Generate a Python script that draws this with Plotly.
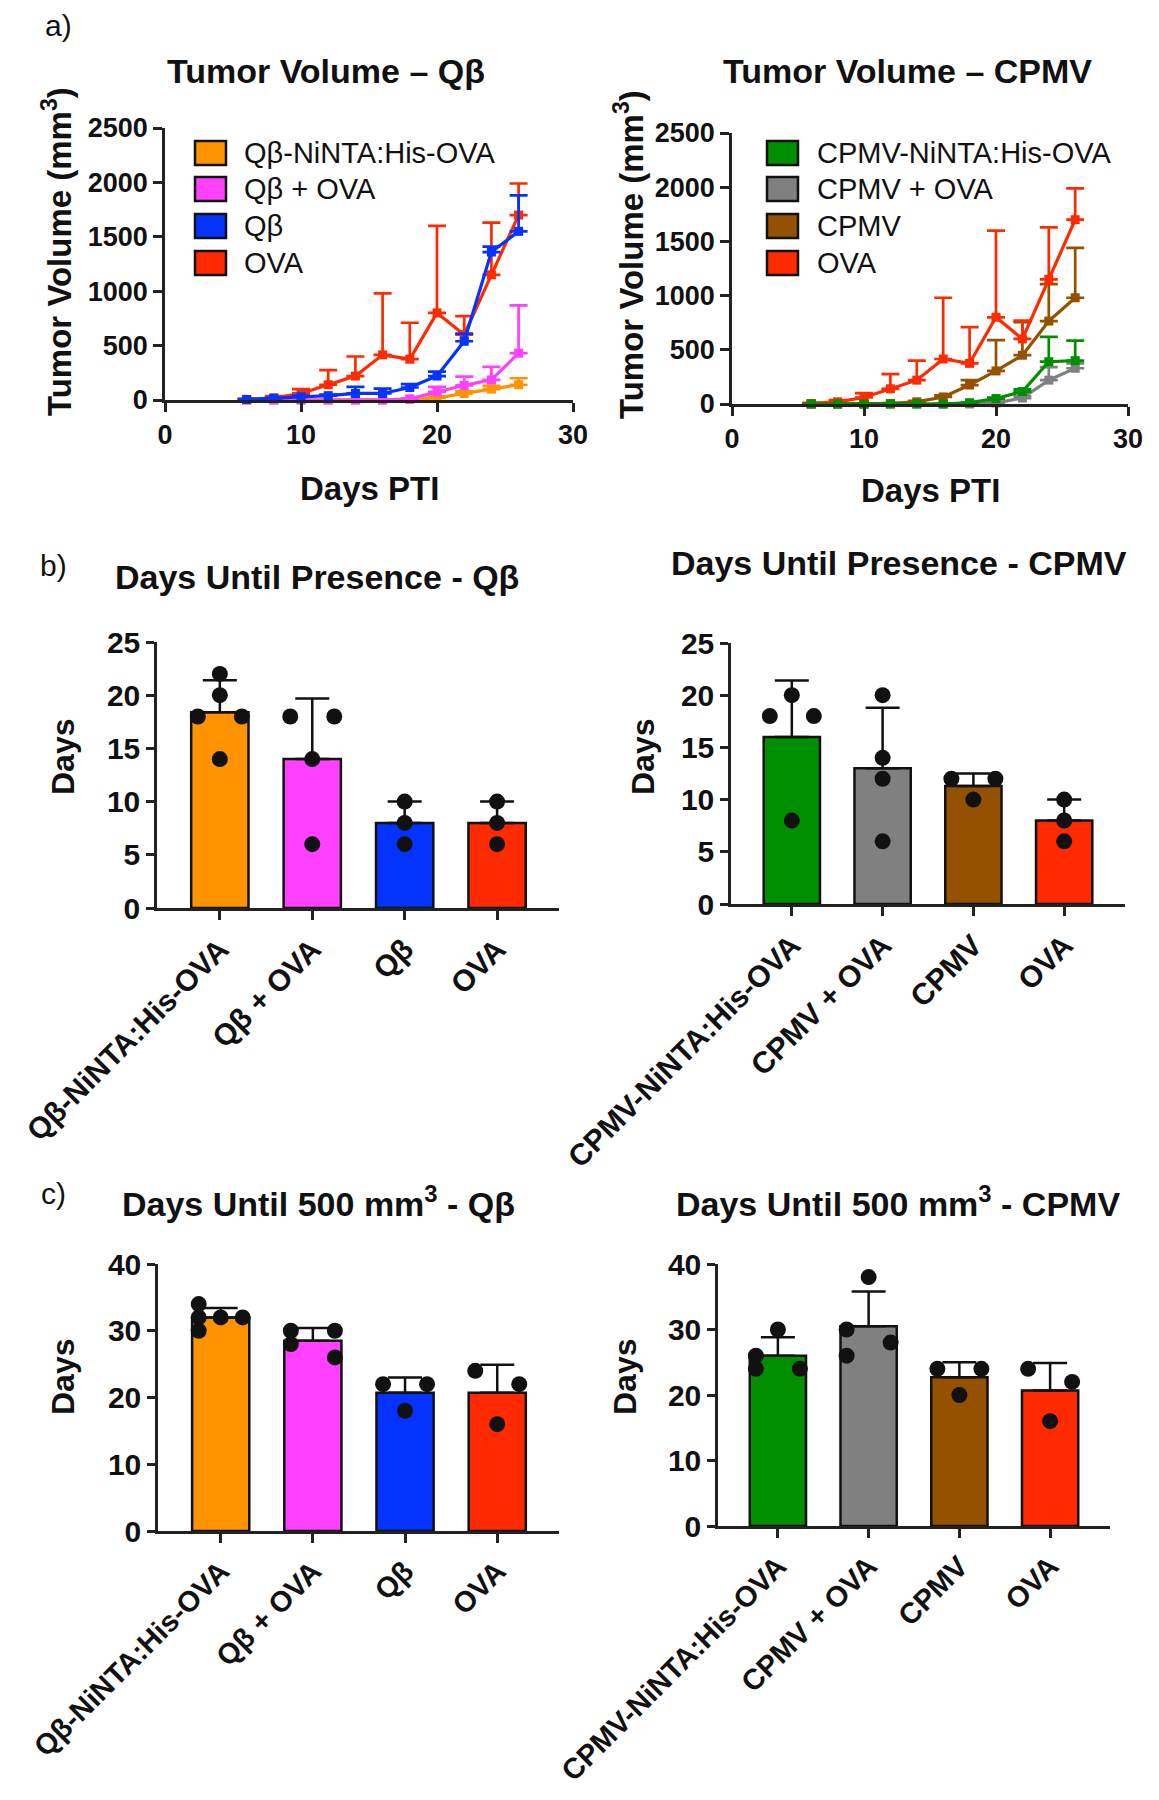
import plotly.graph_objects as go

# the page adds an 8 px body margin, so the figure is drawn slightly smaller
# and every position below is given in page pixels of the 1159x1800 picture
OFF = 8
FIG_W, FIG_H = 1151, 1784
FONT = "Liberation Sans, Arial, sans-serif"

# ---------------- data ----------------
days = [6, 8, 10, 12, 14, 16, 18, 20, 22, 24, 26]

# panel a, Qβ
qb_nin_mean = [0, 0, 0, 0, 0, 0, 5, 20, 60, 100, 140]
qb_nin_sd = [0, 0, 0, 0, 0, 0, 0, 10, 20, 30, 60]
qb_ova_mean = [0, 0, 0, 0, 0, 0, 10, 75, 135, 185, 430]
qb_ova_sd = [0, 0, 0, 0, 0, 0, 5, 45, 80, 120, 440]
qb_mean = [5, 15, 30, 40, 60, 60, 115, 220, 540, 1360, 1550]
qb_sd = [3, 5, 10, 10, 60, 45, 30, 40, 70, 50, 330]
ova_mean = [5, 20, 60, 140, 220, 415, 375, 800, 600, 1150, 1700]
ova_sd = [5, 15, 40, 135, 180, 565, 335, 800, 170, 480, 290]

# panel a, CPMV
cp_nin_mean = [0, 0, 0, 0, 0, 0, 12, 50, 115, 390, 400]
cp_nin_sd = [0, 0, 0, 0, 0, 0, 0, 10, 20, 230, 185]
cp_ova_mean = [0, 0, 0, 0, 0, 0, 0, 10, 55, 220, 330]
cp_ova_sd = [0, 0, 0, 0, 0, 0, 0, 5, 15, 120, 45]
cp_mean = [0, 0, 0, 5, 20, 65, 175, 305, 450, 765, 980]
cp_sd = [0, 0, 0, 3, 10, 15, 45, 285, 305, 340, 460]

# panel b / c categories
qb_cats = ["Qβ-NiNTA:His-OVA", "Qβ + OVA", "Qβ", "OVA"]
cp_cats = ["CPMV-NiNTA:His-OVA", "CPMV + OVA", "CPMV", "OVA"]

# b) days until presence
pres_qb_pts = [[22, 20, 18, 18, 14], [18, 18, 14, 6], [10, 8, 6], [10, 8, 6]]
pres_qb_mean = [18.4, 14, 8, 8]
pres_qb_sd = [3.0, 5.7, 2.0, 2.0]
pres_cp_pts = [[20, 18, 18, 8], [20, 14, 12, 6], [12, 12, 10], [10, 8, 6]]
pres_cp_mean = [16, 13, 11.3, 8]
pres_cp_sd = [5.4, 5.8, 1.2, 2.0]

# c) days until 500 mm3
d500_qb_pts = [[34, 32, 32, 32, 30], [30, 30, 28, 26], [22, 22, 18], [24, 22, 16]]
d500_qb_mean = [32, 28.5, 20.7, 20.7]
d500_qb_sd = [1.4, 1.9, 2.3, 4.2]
d500_cp_pts = [[30, 26, 24, 24], [38, 30, 28, 26], [24, 24, 20], [24, 22, 16]]
d500_cp_mean = [26, 30.5, 22.7, 20.7]
d500_cp_sd = [2.8, 5.3, 2.3, 4.2]

ORANGE, PINK, BLUE, RED = "#FF9300", "#FF40FF", "#0433FF", "#FF2A00"
GREEN, GREY, BROWN = "#008F00", "#808080", "#945200"


def fx(px):
    return (px - OFF) / FIG_W


def fy(py):
    return 1 - (py - OFF) / FIG_H


# subplot boxes in page pixels: (left, right, top, bottom)
boxes = {
    "a1": (165, 573, 128, 400),
    "a2": (732, 1128, 133, 404),
    "b1": (157, 559, 642, 908),
    "b2": (731, 1125, 643, 904),
    "c1": (158, 559, 1264, 1531),
    "c2": (718, 1110, 1264, 1526),
}
xranges = {"b1": [-0.68, 3.67], "b2": [-0.67, 3.67], "c1": [-0.68, 3.67], "c2": [-0.66, 3.66]}
yranges = {"a1": [0, 2500], "a2": [0, 2500], "b1": [0, 25], "b2": [0, 25], "c1": [0, 40], "c2": [0, 40]}
order = ["a1", "a2", "b1", "b2", "c1", "c2"]

fig = go.Figure()

axis_common = dict(
    showline=True, linecolor="#222", linewidth=2.5, ticks="outside", ticklen=9,
    tickwidth=2.5, tickcolor="#222", showgrid=False, zeroline=False, automargin=False,
    tickfont=dict(family=FONT, size=27, color="#111", weight="bold"),
)

for n, key in enumerate(order, start=1):
    l, r, t, b = boxes[key]
    xa = dict(axis_common, domain=[fx(l), fx(r)], anchor="y%d" % n)
    ya = dict(axis_common, domain=[fy(b), fy(t)], anchor="x%d" % n, range=yranges[key])
    if key.startswith("a"):
        xa.update(range=[0, 30], tickvals=[0, 10, 20, 30])
        ya.update(tickvals=[0, 500, 1000, 1500, 2000, 2500])
    else:
        cats = qb_cats if key.endswith("1") else cp_cats
        lab_size = 30 if key.startswith("b") else 29
        xa.update(range=xranges[key], tickvals=[0, 1, 2, 3], ticktext=cats, tickangle=-45,
                  tickfont=dict(family=FONT, size=lab_size, color="#111", weight="bold"))
        step = 5 if key.startswith("b") else 10
        ya.update(dtick=step, ticklen=8,
                  tickfont=dict(family=FONT, size=30, color="#111", weight="bold"))
    fig.update_layout({"xaxis%d" % n: xa, "yaxis%d" % n: ya})


def add_line(n, mean, sd, color):
    fig.add_trace(go.Scatter(
        x=days, y=mean, mode="lines+markers", xaxis="x%d" % n, yaxis="y%d" % n,
        line=dict(color=color, width=3.2), marker=dict(symbol="square", size=9, color=color),
        error_y=dict(type="data", symmetric=False, array=sd, arrayminus=[0] * len(sd),
                     color=color, thickness=2.7, width=9),
        cliponaxis=False, showlegend=False,
    ))


add_line(1, qb_nin_mean, qb_nin_sd, ORANGE)
add_line(1, qb_ova_mean, qb_ova_sd, PINK)
add_line(1, ova_mean, ova_sd, RED)
add_line(1, qb_mean, qb_sd, BLUE)
add_line(2, cp_ova_mean, cp_ova_sd, GREY)
add_line(2, cp_mean, cp_sd, BROWN)
add_line(2, ova_mean, ova_sd, RED)
add_line(2, cp_nin_mean, cp_nin_sd, GREEN)


def swarm(vals, px_per_unit, dot_px=17):
    # spread dots that would overlap: alternate left/right within a cluster
    idx = sorted(range(len(vals)), key=lambda i: -vals[i])
    offs = [0] * len(vals)
    clusters, cur = [], [idx[0]]
    for a, b in zip(idx, idx[1:]):
        if (vals[a] - vals[b]) * px_per_unit < dot_px:
            cur.append(b)
        else:
            clusters.append(cur)
            cur = [b]
    clusters.append(cur)
    for cl in clusters:
        if len(cl) == 1:
            continue
        used = set()
        for k, i in enumerate(cl):
            side = -1 if k % 2 == 0 else 1
            if (side, vals[i]) in used:
                side = 0
            used.add((side, vals[i]))
            offs[i] = side
    return offs


def add_bars(n, key, means, sds, pts, colors):
    l, r, t, b = boxes[key]
    ppu = (b - t) / (yranges[key][1] - yranges[key][0])
    ppc = (r - l) / (xranges[key][1] - xranges[key][0])
    step = 22 / ppc
    fig.add_trace(go.Bar(
        x=[0, 1, 2, 3], y=means, width=0.62, xaxis="x%d" % n, yaxis="y%d" % n,
        marker=dict(color=colors, line=dict(color="#111", width=2.5)),
        error_y=dict(type="data", symmetric=False, array=sds, arrayminus=[0] * 4,
                     color="#111", thickness=2.5, width=17),
        showlegend=False,
    ))
    xs, ys = [], []
    for i, p in enumerate(pts):
        offs = swarm(p, ppu)
        xs += [i + o * step for o in offs]
        ys += p
    fig.add_trace(go.Scatter(
        x=xs, y=ys, mode="markers", xaxis="x%d" % n, yaxis="y%d" % n,
        marker=dict(color="#111", size=16), cliponaxis=False, showlegend=False,
    ))


add_bars(3, "b1", pres_qb_mean, pres_qb_sd, pres_qb_pts, [ORANGE, PINK, BLUE, RED])
add_bars(4, "b2", pres_cp_mean, pres_cp_sd, pres_cp_pts, [GREEN, GREY, BROWN, RED])
add_bars(5, "c1", d500_qb_mean, d500_qb_sd, d500_qb_pts, [ORANGE, PINK, BLUE, RED])
add_bars(6, "c2", d500_cp_mean, d500_cp_sd, d500_cp_pts, [GREEN, GREY, BROWN, RED])

# ---------------- text ----------------
def text(s, x, y, size=34, bold=True, angle=0, xanchor="center"):
    fig.add_annotation(
        text=s, x=fx(x), y=fy(y), xref="paper", yref="paper", showarrow=False,
        xanchor=xanchor, yanchor="middle", textangle=angle,
        font=dict(family=FONT, size=size, color="#111", weight="bold" if bold else "normal"),
    )


text("a)", 58, 26, size=30, bold=False)
text("b)", 53, 566, size=30, bold=False)
text("c)", 53, 1193, size=30, bold=False)

text("Tumor Volume – Qβ", 326, 71)
text("Tumor Volume – CPMV", 907, 71)
text("Days PTI", 369, 488, size=33)
text("Days PTI", 930, 491, size=33)
text("Tumor Volume (mm<sup>3</sup>)", 57, 252, size=33, angle=-90)
text("Tumor Volume (mm<sup>3</sup>)", 629, 255, size=33, angle=-90)

text("Days Until Presence - Qβ", 317, 577)
text("Days Until Presence - CPMV", 899, 563)
text("Days Until 500 mm<sup>3</sup> - Qβ", 318, 1201)
text("Days Until 500 mm<sup>3</sup> - CPMV", 898, 1201)
text("Days", 63, 757, size=32, angle=-90)
text("Days", 643, 757, size=32, angle=-90)
text("Days", 63, 1377, size=32, angle=-90)
text("Days", 625, 1377, size=32, angle=-90)

# legends for panel a
leg_qb = ["Qβ-NiNTA:His-OVA", "Qβ + OVA", "Qβ", "OVA"]
leg_cp = ["CPMV-NiNTA:His-OVA", "CPMV + OVA", "CPMV", "OVA"]
rows = [153, 189, 226, 263]
for labels, cols, x0, tx in [(leg_qb, [ORANGE, PINK, BLUE, RED], 195, 242),
                              (leg_cp, [GREEN, GREY, BROWN, RED], 767, 815)]:
    for lab, c, yc in zip(labels, cols, rows):
        fig.add_shape(type="rect", xref="paper", yref="paper",
                      x0=fx(x0), x1=fx(x0 + 31), y0=fy(yc + 12), y1=fy(yc - 12),
                      fillcolor=c, line=dict(color="#111", width=2.5))
        text(lab, tx, yc, size=29, bold=False, xanchor="left")

fig.update_layout(
    width=FIG_W, height=FIG_H, margin=dict(l=0, r=0, t=0, b=0, autoexpand=False),
    paper_bgcolor="white", plot_bgcolor="white", showlegend=False,
    bargap=0.3,
)

fig.write_html("out.html")
